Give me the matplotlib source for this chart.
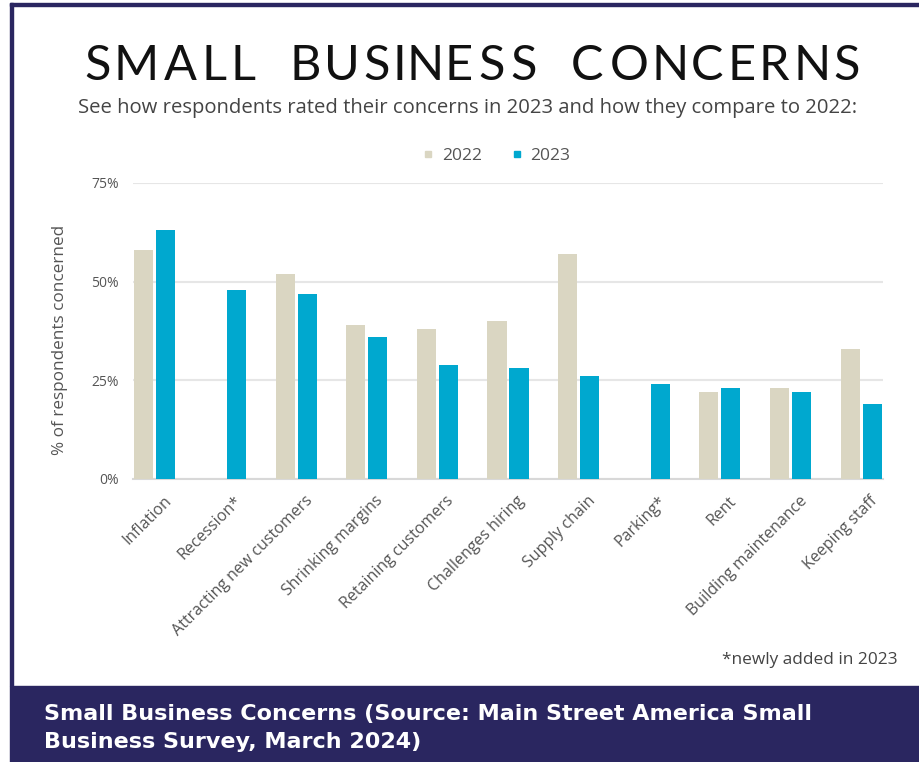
import matplotlib
matplotlib.use("Agg")
import matplotlib.pyplot as plt
from matplotlib.patches import Rectangle
from matplotlib.textpath import TextPath
from matplotlib.font_manager import FontProperties
from matplotlib.lines import Line2D
import numpy as np

categories = ["Inflation", "Recession*", "Attracting new customers", "Shrinking margins",
              "Retaining customers", "Challenges hiring", "Supply chain", "Parking*",
              "Rent", "Building maintenance", "Keeping staff"]
vals_2022 = [58, np.nan, 52, 39, 38, 40, 57, np.nan, 22, 23, 33]
vals_2023 = [63, 48, 47, 36, 29, 28, 26, 24, 23, 22, 19]
yticks = [0, 25, 50, 75]

BEIGE = "#dad6c2"
TEAL = "#00a8cf"
NAVY = "#2a2660"
GREY_TXT = "#555555"

W, H = 920, 762
fig = plt.figure(figsize=(W / 100, H / 100), dpi=100)


def fx(x):
    return x / W


def fy(y):
    return 1 - y / H


# frame and caption banner
fig.patches.append(Rectangle((fx(10), fy(686)), fx(3), 683 / H, transform=fig.transFigure,
                             color=NAVY, zorder=0))
fig.patches.append(Rectangle((fx(10), fy(6)), 1, 3 / H, transform=fig.transFigure,
                             color=NAVY, zorder=0))
fig.patches.append(Rectangle((fx(10), 0), 1, fy(686), transform=fig.transFigure,
                             color=NAVY, zorder=0))


def spaced_text(s, x0, x1, y, size, family, color, space=0.6, weight="normal"):
    # spread characters evenly (by ink width) so the string fills x0..x1 (pixels)
    prop = FontProperties(family=family, size=size, weight=weight)
    k = 100 / 72
    glyphs = []
    for ch in s:
        if ch == " ":
            glyphs.append((ch, 0.0, size * space * k))
        else:
            ext = TextPath((0, 0), ch, prop=prop).get_extents()
            glyphs.append((ch, ext.x0 * k, ext.width * k))
    track = (x1 - x0 - sum(g[2] for g in glyphs)) / (len(s) - 1)
    x = x0
    for ch, left, w in glyphs:
        if ch != " ":
            fig.text(fx(x - left), fy(y), ch, fontproperties=prop, color=color,
                     ha="left", va="baseline")
        x += w + track


spaced_text("SMALL BUSINESS CONCERNS", 86, 858, 80, 35, "Lato", "#111111", space=0.42)

fig.text(fx(468), fy(108), "See how respondents rated their concerns in 2023 and how they compare to 2022:",
         ha="center", va="center", fontsize=14.6, family="Open Sans", color="#444444")

ax = fig.add_axes([fx(133), fy(479), 750 / W, 296 / H])
x = np.arange(len(categories))
bw = 0.27
v22 = np.array(vals_2022, dtype=float)
v23 = np.array(vals_2023, dtype=float)
m22 = ~np.isnan(v22)
ax.bar(x[m22] - 0.156, v22[m22], bw, color=BEIGE, zorder=3)
ax.bar(x + 0.156, v23, bw, color=TEAL, zorder=3)

ax.set_xlim(-0.31, 10.31)
ax.set_ylim(0, 75)
ax.set_yticks(yticks)
ax.set_yticklabels([f"{t}%" for t in yticks], family="Open Sans", fontsize=10, color=GREY_TXT)
ax.yaxis.grid(True, color="#e6e6e6", lw=1.5, zorder=0)
ax.set_axisbelow(True)
for sp in ["top", "right", "left"]:
    ax.spines[sp].set_visible(False)
ax.spines["bottom"].set_color("#d8d8d8")
ax.spines["bottom"].set_linewidth(1.5)
ax.tick_params(length=0, axis="both", pad=10)
ax.set_xticks(x + 0.12)
ax.set_xticklabels(categories, rotation=45, ha="right", rotation_mode="anchor",
                   family="Open Sans", fontsize=11.5, color=GREY_TXT)
ax.tick_params(axis="x", pad=10)

fig.text(fx(60), fy(340), "% of respondents concerned", rotation=90, ha="center", va="center",
         family="Open Sans", fontsize=12.3, color=GREY_TXT)

handles = [Line2D([], [], ls="", marker="s", ms=5, color=BEIGE),
           Line2D([], [], ls="", marker="s", ms=5, color=TEAL)]
fig.legend(handles, ["2022", "2023"], loc="center", bbox_to_anchor=(fx(495), fy(156)),
           ncol=2, frameon=False, handletextpad=0.3, columnspacing=1.5, handlelength=1,
           prop=FontProperties(family="Open Sans", size=12.5), labelcolor=GREY_TXT)

fig.text(fx(898), fy(660), "*newly added in 2023", ha="right", va="center",
         family="Open Sans", fontsize=12.4, color="#444444")

fig.text(fx(44), fy(714), "Small Business Concerns (Source: Main Street America Small",
         ha="left", va="center", fontsize=16, family="DejaVu Sans", weight="bold", color="white")
fig.text(fx(44), fy(742), "Business Survey, March 2024)",
         ha="left", va="center", fontsize=16, family="DejaVu Sans", weight="bold", color="white")

fig.savefig("out.png", dpi=100, facecolor="white")
